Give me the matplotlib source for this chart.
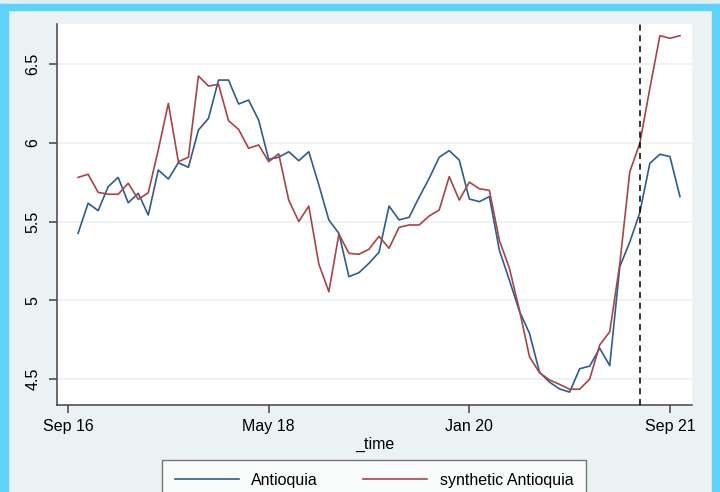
import numpy as np
import pandas as pd
import matplotlib
matplotlib.use('Agg')
import matplotlib.pyplot as plt
from matplotlib.patches import Rectangle

# monthly data, Oct 2016 .. Oct 2021
dates = pd.date_range('2016-10-01', periods=61, freq='MS')

antioquia = [5.425, 5.616, 5.569, 5.721, 5.78, 5.619, 5.679, 5.541, 5.827, 5.77,
             5.873, 5.844, 6.081, 6.155, 6.398, 6.398, 6.246, 6.271, 6.144, 5.895,
             5.908, 5.943, 5.886, 5.943, 5.732, 5.51, 5.425, 5.15, 5.175, 5.235,
             5.305, 5.598, 5.51, 5.527, 5.654, 5.774, 5.908, 5.95, 5.89, 5.643,
             5.626, 5.658, 5.317, 5.127, 4.93, 4.79, 4.543, 4.48, 4.437, 4.417,
             4.565, 4.582, 4.695, 4.585, 5.213, 5.37, 5.557, 5.87, 5.927, 5.912,
             5.658]

synthetic = [5.78, 5.80, 5.685, 5.673, 5.673, 5.743, 5.641, 5.683, 5.956, 6.25,
             5.88, 5.908, 6.424, 6.36, 6.371, 6.14, 6.085, 5.965, 5.986, 5.88,
             5.93, 5.636, 5.50, 5.598, 5.23, 5.054, 5.42, 5.298, 5.292, 5.324,
             5.406, 5.33, 5.463, 5.478, 5.478, 5.535, 5.573, 5.785, 5.636, 5.75,
             5.708, 5.698, 5.38, 5.203, 4.937, 4.641, 4.54, 4.494, 4.466, 4.435,
             4.435, 4.50, 4.716, 4.80, 5.23, 5.816, 5.997, 6.346, 6.68, 6.663,
             6.68]

tick_dates = ['2016-09', '2018-05', '2020-01', '2021-09']
tick_labels = ['Sep 16', 'May 18', 'Jan 20', 'Sep 21']
treat_date = '2021-06'
yticks = [4.5, 5, 5.5, 6, 6.5]


def month_num(d):
    d = pd.Timestamp(d)
    return (d.year - 2016) * 12 + d.month - 9


x = [month_num(d) for d in dates]

plt.rcParams['font.family'] = ['Liberation Sans', 'DejaVu Sans']

bg = '#eaf2f3'
fig = plt.figure(figsize=(7.2, 4.92), dpi=100, facecolor=bg)

# screenshot frame
fig.patches.append(Rectangle((0, 1 - 3.5 / 492), 1, 3.5 / 492, transform=fig.transFigure,
                             color='#dff1f7', zorder=0))
fig.patches.append(Rectangle((0, 1 - 10 / 492), 1, 6.5 / 492, transform=fig.transFigure,
                             color='#5dd3fb', zorder=0))
fig.patches.append(Rectangle((0, 0), 8 / 720, 1 - 3.5 / 492, transform=fig.transFigure,
                             color='#5dd3fb', zorder=0))
fig.patches.append(Rectangle((712 / 720, 0), 8 / 720, 1 - 3.5 / 492, transform=fig.transFigure,
                             color='#5dd3fb', zorder=0))

ax = fig.add_axes([57 / 720, 1 - 405 / 492, 635 / 720, 381 / 492])
ax.set_facecolor('white')

ax.plot(x, antioquia, color='#2f5d8a', lw=1.2, label='Antioquia', zorder=3)
ax.plot(x, synthetic, color='#a8434b', lw=1.2, label='synthetic Antioquia', zorder=3)
ax.axvline(month_num(treat_date), color='black', lw=1.1, ls=(0, (4, 3)), zorder=4)

ax.set_xlim(-1.1, 62.2)
ax.set_ylim(4.335, 6.754)
ax.set_yticks(yticks)
ax.set_yticklabels(['4.5', '5', '5.5', '6', '6.5'], rotation=90, va='center', fontsize=11.5)
ax.set_xticks([month_num(d) for d in tick_dates])
ax.set_xticklabels(tick_labels, fontsize=11.5)
ax.grid(axis='y', color=bg, lw=1.2)
ax.set_axisbelow(True)
for s in ['top', 'right']:
    ax.spines[s].set_visible(False)
for s in ['left', 'bottom']:
    ax.spines[s].set_color('#444444')
    ax.spines[s].set_linewidth(1.1)
ax.tick_params(length=6, width=1.1, color='#444444', pad=4)
ax.tick_params(axis='y', pad=6)
ax.set_xlabel('_time', fontsize=11.5, labelpad=2)

leg = fig.legend(loc='upper center', bbox_to_anchor=(374 / 720, 1 - 460 / 492), ncol=2,
                 frameon=True, fancybox=False, fontsize=11.5, handlelength=4.0,
                 columnspacing=2.8, borderpad=0.8, borderaxespad=0)
leg.get_frame().set_edgecolor('#555555')
leg.get_frame().set_linewidth(1.0)

fig.savefig('out.png', dpi=100, facecolor=bg)
